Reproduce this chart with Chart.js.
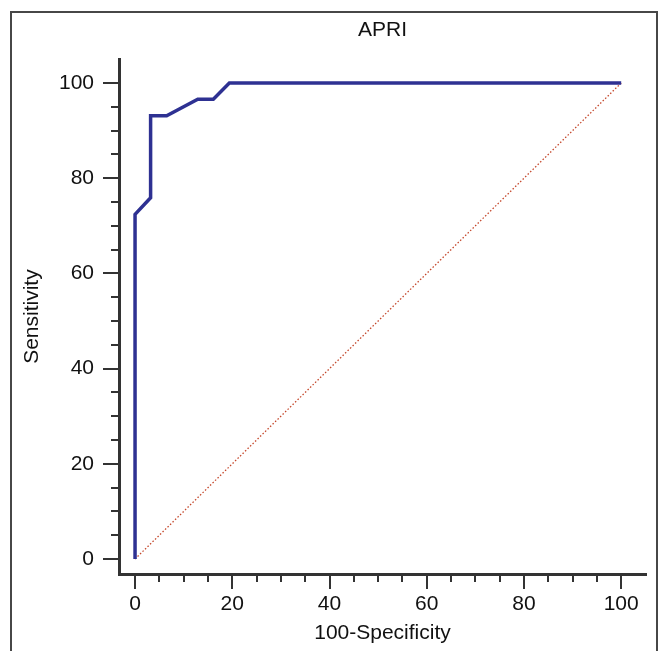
<!DOCTYPE html>
<html>
<head>
<meta charset="utf-8">
<script src="https://cdn.jsdelivr.net/npm/chart.js@4"></script>
<style>
  html, body { margin: 0; padding: 0; background: #ffffff; overflow: hidden; }
  #wrap { position: relative; width: 663px; height: 651px; }
  #frame { position: absolute; left: 10px; top: 11px; width: 644px; height: 700px;
           border: 2px solid #474747; pointer-events: none; }
  canvas { position: absolute; left: 0; top: 0; }
</style>
</head>
<body>
<div id="wrap">
  <canvas id="c" width="663" height="651"></canvas>
  <div id="frame"></div>
</div>
<script>
// ROC curve: 100-Specificity (x) vs Sensitivity (y)
const rocX = [0, 0, 3.2, 3.2, 6.5, 12.9, 16.1, 19.4, 100];
const rocY = [0, 72.4, 75.9, 93.1, 93.1, 96.6, 96.6, 100, 100];
// Reference (chance) diagonal
const diagX = [0, 100];
const diagY = [0, 100];
// Tick labels
const xTickLabels = [0, 20, 40, 60, 80, 100];
const yTickLabels = [0, 20, 40, 60, 80, 100];
const minorStep = 5;

const FONT = '"Liberation Sans", Arial, sans-serif';
const FSIZE = 21;

function allTicks() {
  const t = [];
  for (let v = 0; v <= 100; v += minorStep) t.push({ value: v });
  return t;
}

const tickMarks = {
  id: 'tickMarks',
  afterDraw(chart) {
    const ctx = chart.ctx;
    const xs = chart.scales.x, ys = chart.scales.y;
    const area = chart.chartArea;
    ctx.save();
    ctx.strokeStyle = '#333333';
    ctx.lineWidth = 2;
    xs.ticks.forEach(t => {
      const px = Math.round(xs.getPixelForValue(t.value));
      const len = xTickLabels.includes(t.value) ? 15 : 8;
      ctx.beginPath();
      ctx.moveTo(px, area.bottom);
      ctx.lineTo(px, area.bottom + len);
      ctx.stroke();
    });
    ys.ticks.forEach(t => {
      const py = Math.round(ys.getPixelForValue(t.value));
      const len = yTickLabels.includes(t.value) ? 16 : 8;
      ctx.beginPath();
      ctx.moveTo(area.left, py);
      ctx.lineTo(area.left - len, py);
      ctx.stroke();
    });
    ctx.restore();
  }
};

new Chart(document.getElementById('c'), {
  type: 'line',
  data: {
    datasets: [
      {
        label: 'APRI',
        data: rocX.map((x, i) => ({ x: x, y: rocY[i] })),
        borderColor: '#2e3192',
        borderWidth: 3.5,
        pointRadius: 0,
        tension: 0,
        fill: false,
        order: 0
      },
      {
        label: 'Reference',
        data: diagX.map((x, i) => ({ x: x, y: diagY[i] })),
        borderColor: '#c4462a',
        borderWidth: 1.3,
        borderDash: [1.5, 2],
        pointRadius: 0,
        tension: 0,
        fill: false,
        order: 1
      }
    ]
  },
  options: {
    responsive: false,
    animation: false,
    devicePixelRatio: 1,
    layout: { padding: { left: 0, right: 17, top: 0, bottom: 0 } },
    plugins: {
      legend: { display: false },
      tooltip: { enabled: false },
      title: {
        display: true,
        fullSize: false,
        text: 'APRI',
        color: '#111111',
        font: { family: FONT, size: FSIZE, weight: 'normal' },
        padding: { top: 18, bottom: 16 }
      }
    },
    scales: {
      x: {
        type: 'linear',
        min: -3.3,
        max: 105.1,
        afterBuildTicks(scale) { scale.ticks = allTicks(); },
        afterFit(scale) { scale.height = 77; },
        grid: { display: false, drawTicks: false },
        border: { display: true, color: '#333333', width: 3 },
        ticks: {
          autoSkip: false,
          maxRotation: 0,
          padding: 18,
          color: '#111111',
          font: { family: FONT, size: FSIZE },
          callback: v => (xTickLabels.includes(v) ? String(v) : '')
        },
        title: {
          display: true,
          text: '100-Specificity',
          color: '#111111',
          font: { family: FONT, size: FSIZE },
          padding: { top: 0, bottom: 5 }
        }
      },
      y: {
        type: 'linear',
        min: -3.15,
        max: 105.0,
        afterBuildTicks(scale) { scale.ticks = allTicks(); },
        afterFit(scale) { scale.width = 119; },
        grid: { display: false, drawTicks: false },
        border: { display: true, color: '#333333', width: 3 },
        ticks: {
          autoSkip: false,
          padding: 25,
          color: '#111111',
          font: { family: FONT, size: FSIZE },
          callback: v => (yTickLabels.includes(v) ? String(v) : '')
        },
        title: {
          display: true,
          text: 'Sensitivity',
          color: '#111111',
          font: { family: FONT, size: FSIZE },
          padding: { top: 20, bottom: 0 }
        }
      }
    }
  },
  plugins: [tickMarks]
});
</script>
</body>
</html>
